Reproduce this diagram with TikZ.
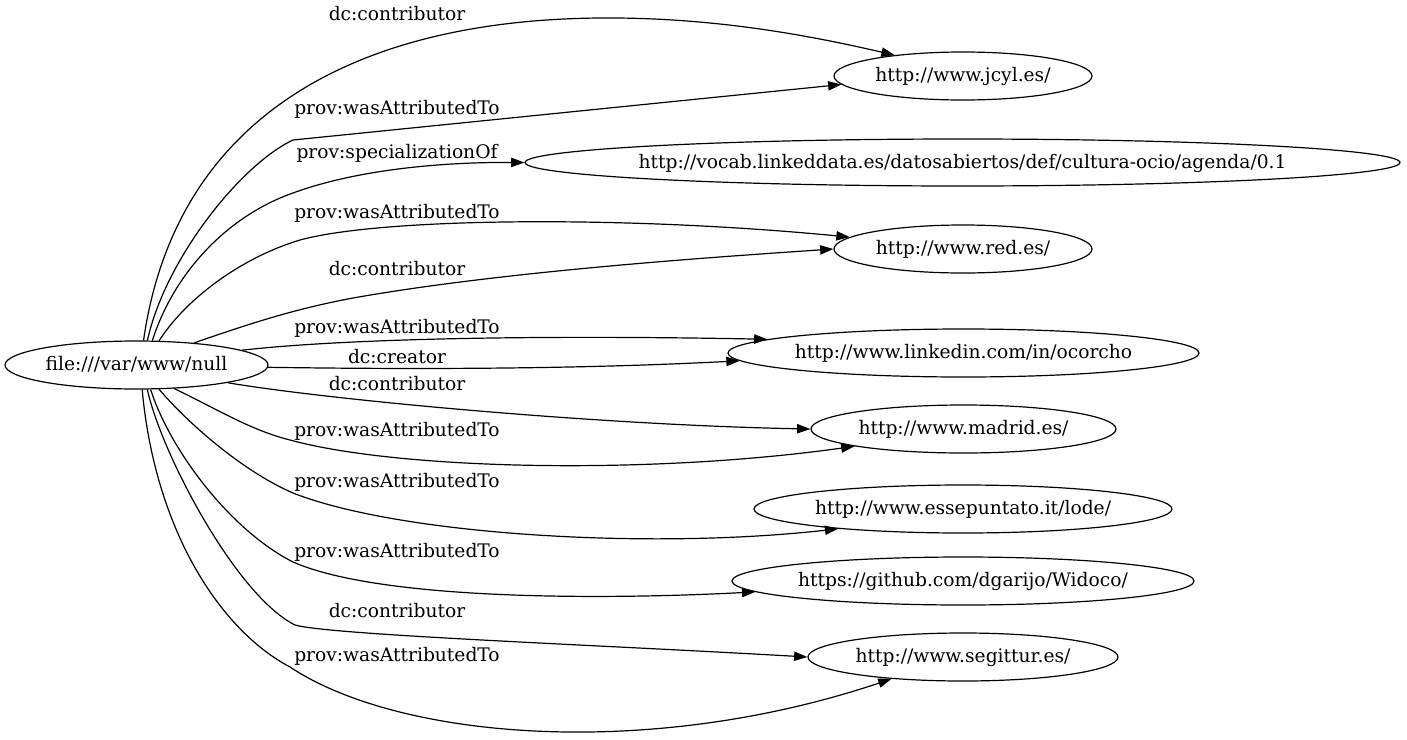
\documentclass[tikz,border=0pt]{standalone}
\usepackage{fontspec}
\setmainfont{DejaVu Serif}
\usetikzlibrary{shapes.geometric,arrows.meta}
\newcommand{\ntext}[1]{\makebox[0pt]{\raisebox{-5.5pt}[0pt][0pt]{#1}}}
\begin{document}
\begin{tikzpicture}[x=1pt,y=-1pt,
  every node/.style={font=\fontsize{18.67}{22}\selectfont},
  gnode/.style={draw, ellipse, inner sep=0pt, line width=1.2pt, minimum height=48pt},
  elabel/.style={anchor=base, inner sep=0pt},
  edge/.style={line width=1.2pt, -{Triangle[length=13.3pt,width=9.3pt]}}]
\useasboundingbox (0,0) rectangle (1407,739);
% nodes
\node[gnode, minimum width=263pt] (file) at (136.5,365) {\ntext{file:///var/www/null}};
\node[gnode, minimum width=258pt] (jcyl) at (963,76) {\ntext{http://www.jcyl.es/}};
\node[gnode, minimum width=875pt, minimum height=47pt] (vocab) at (962.5,162.5) {\ntext{http://vocab.linkeddata.es/datosabiertos/def/cultura-ocio/agenda/0.1}};
\node[gnode, minimum width=258pt] (red) at (963,249) {\ntext{http://www.red.es/}};
\node[gnode, minimum width=471pt] (linkedin) at (963.5,353) {\ntext{http://www.linkedin.com/in/ocorcho}};
\node[gnode, minimum width=305pt] (madrid) at (963.5,429) {\ntext{http://www.madrid.es/}};
\node[gnode, minimum width=418pt] (esse) at (963,509) {\ntext{http://www.essepuntato.it/lode/}};
\node[gnode, minimum width=462pt] (github) at (963,581) {\ntext{https://github.com/dgarijo/Widoco/}};
\node[gnode, minimum width=310pt] (segittur) at (963,657) {\ntext{http://www.segittur.es/}};
% edge labels
\node[elabel] (l1) at (397,20.5) {dc:contributor};
\node[elabel] (l2) at (397,114.3) {prov:wasAttributedTo};
\node[elabel] (l3) at (397,158.3) {prov:specializationOf};
\node[elabel] (l4) at (397,218.3) {prov:wasAttributedTo};
\node[elabel] (l5) at (397,275) {dc:contributor};
\node[elabel] (l6) at (397,333.3) {prov:wasAttributedTo};
\node[elabel] (l7) at (397,363.3) {dc:creator};
\node[elabel] (l8) at (397,390.7) {dc:contributor};
\node[elabel] (l9) at (397,436.5) {prov:wasAttributedTo};
\node[elabel] (l10) at (397,487.3) {prov:wasAttributedTo};
\node[elabel] (l11) at (397,557.3) {prov:wasAttributedTo};
\node[elabel] (l12) at (397,617.3) {dc:contributor};
\node[elabel] (l13) at (397,661.7) {prov:wasAttributedTo};
% edges
\draw[edge] (file.74.8) .. controls (175,120) and (350,20) .. (600,18) .. controls (720,17) and (820,38) .. (jcyl.163.5);
\draw[edge] (file.66.4) .. controls (165,260) and (240,165) .. (293,140) -- (jcyl.184.4);
\draw[edge] (file.57) .. controls (175,270) and (230,215) .. (293,193) .. controls (350,172) and (430,162) .. (vocab.180);
\draw[edge] (file.47.8) .. controls (185,300) and (240,258) .. (300,240) .. controls (380,218) and (620,215) .. (red.174.5);
\draw[edge] (file.21.4) .. controls (260,320) and (300,308) .. (353,298) .. controls (500,272) and (700,258) .. (red.180);
\draw[edge] (file.8.6) .. controls (350,338) and (550,335) .. (linkedin.176.7);
\draw[edge] (file.-1) .. controls (450,370) and (600,368) .. (linkedin.182.3);
\draw[edge] (file.-11.8) .. controls (330,400) and (600,425) .. (madrid.180);
\draw[edge] (file.-32.3) .. controls (215,408) and (250,430) .. (290,440) .. controls (400,470) and (650,475) .. (madrid.189.6);
\draw[edge] (file.-47.8) .. controls (185,420) and (240,470) .. (293,493) .. controls (400,535) and (650,550) .. (esse.189.9);
\draw[edge] (file.-60.5) .. controls (170,450) and (230,530) .. (293,562) .. controls (380,600) and (600,600) .. (github.183.5);
\draw[edge] (file.-66.3) .. controls (160,450) and (235,595) .. (295,625) .. controls (330,635) and (600,645) .. (segittur.180);
\draw[edge] (file.-77) .. controls (155,530) and (220,630) .. (290,667) .. controls (400,740) and (650,760) .. (segittur.197.6);
\end{tikzpicture}
\end{document}
